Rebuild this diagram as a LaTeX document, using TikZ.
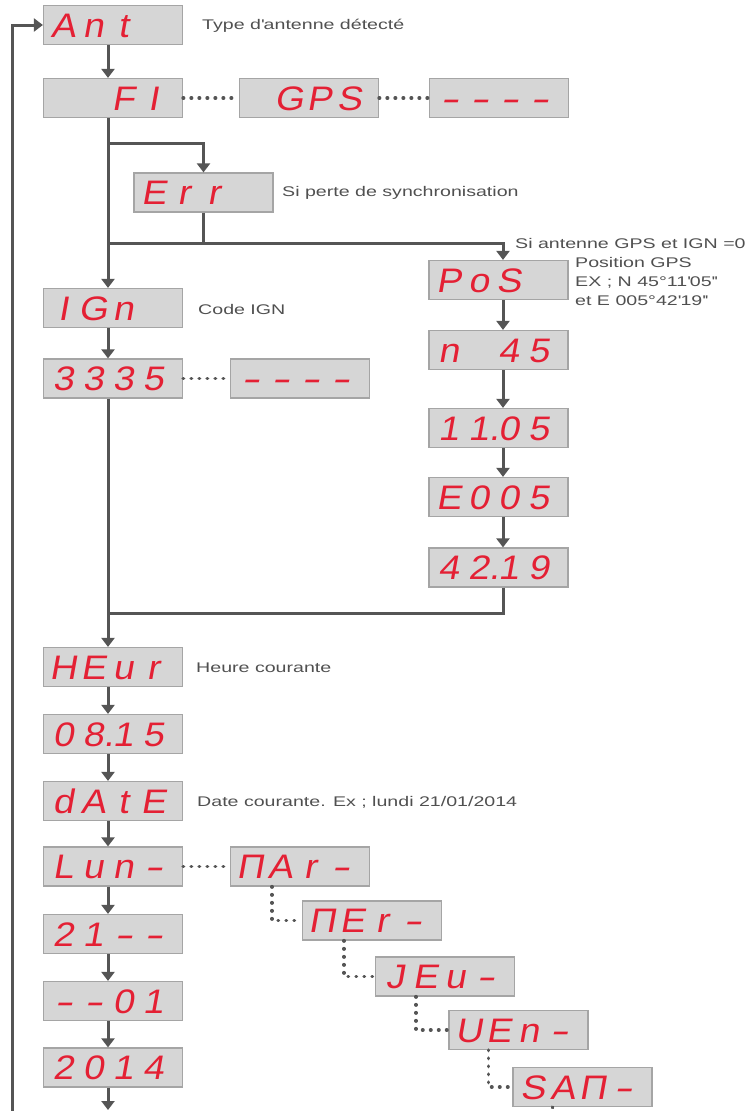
\documentclass[tikz,border=0pt]{standalone}
\usepackage{fontspec}
\usepackage{xcolor}
\usetikzlibrary{arrows.meta}
\usetikzlibrary{math}
\setmainfont{Liberation Sans}
\newfontfamily\labelfont[FakeStretch=1.4]{Liberation Sans}
\newfontfamily\segfont[FakeSlant=0.18, FakeStretch=1.1]{Liberation Sans}
\definecolor{linegray}{RGB}{85,85,85}
\definecolor{boxfill}{RGB}{214,214,214}
\definecolor{boxline}{RGB}{165,165,165}
\definecolor{segred}{RGB}{228,32,52}
\definecolor{labelgray}{RGB}{80,80,80}

% four digit cells of a display
\newcommand\digits[4]{{\segfont\fontsize{34}{34}\selectfont\color{segred}%
\makebox[30pt]{#1}\makebox[30pt]{#2}\makebox[30pt]{#3}\makebox[30pt]{#4}\kern10pt}}
\newcommand\segdash{\scalebox{1.5}[1]{-}}

\begin{document}
\begin{tikzpicture}[x=1pt, y=-1pt,
  disp/.style={draw=boxline, fill=boxfill, line width=1.2pt, minimum width=139pt,
    minimum height=39pt, inner sep=0pt, text height=24pt, text depth=0pt},
  lbl/.style={font=\labelfont\fontsize{14}{19}\selectfont, text=labelgray, inner sep=0pt},
  wire/.style={draw=linegray, line width=3pt},
  flow/.style={wire, -{Triangle[width=13pt,length=9pt]}},
  dots/.style={draw=linegray, line width=3.5pt, line cap=round, dash pattern=on 0.5pt off 7.5pt}]
\tikzmath{
\mx=108;
\sx=503;
}
\useasboundingbox (0,0) rectangle (751,1111);

\coordinate (main) at (\mx,0);
\coordinate (side) at (\sx,0);
\coordinate (split) at (\mx,143);
\coordinate (join) at (\mx,243);
\coordinate (back) at (\mx,613);
\coordinate (out) at (\mx,1110);
\coordinate (loop) at (12,1111);
\coordinate (stub) at (555,1111);

% left column
\node[disp] (ant) at (113,25) {\digits{A}{n}{t}{}};
\node[disp] (fi) at (113,98) {\digits{}{}{F}{I}};
\node[disp] (gps) at (309,98) {\digits{}{G}{P}{S}};
\node[disp] (nogps) at (499,98) {\digits{\segdash}{\segdash}{\segdash}{\segdash}};
\node[disp] (err) at (203.5,192.5) {\digits{E}{r}{r}{}};
\node[disp] (ign) at (113,308) {\digits{I}{G}{n}{}};
\node[disp] (code) at (113,378.5) {\digits{3}{3}{3}{5}};
\node[disp] (nocode) at (300,378.5) {\digits{\segdash}{\segdash}{\segdash}{\segdash}};

% GPS position
\node[disp] (pos) at (498.5,280) {\digits{P}{o}{S}{}};
\node[disp] (lat) at (498.5,350) {\digits{n}{}{4}{5}};
\node[disp] (latmin) at (498.5,428) {\digits{1}{1\rlap{.}}{0}{5}};
\node[disp] (lon) at (498.5,497) {\digits{E}{0}{0}{5}};
\node[disp] (lonmin) at (498.5,567.5) {\digits{4}{2\rlap{.}}{1}{9}};

% time and date
\node[disp] (heur) at (113,667) {\digits{H}{E}{u}{r}};
\node[disp] (hhmm) at (113,734) {\digits{0}{8\rlap{.}}{1}{5}};
\node[disp] (date) at (113,801) {\digits{d}{A}{t}{E}};
\node[disp] (lun) at (113,866.5) {\digits{L}{u}{n}{\segdash}};
\node[disp] (dd) at (113,934) {\digits{2}{1}{\segdash}{\segdash}};
\node[disp] (mm) at (113,1001) {\digits{\segdash}{\segdash}{0}{1}};
\node[disp] (yyyy) at (113,1067.5) {\digits{2}{0}{1}{4}};
\node[disp] (mar) at (300,866.5) {\digits{Π}{A}{r}{\segdash}};
\node[disp] (mer) at (372,920.5) {\digits{Π}{E}{r}{\segdash}};
\node[disp] (jeu) at (445,976.5) {\digits{J}{E}{u}{\segdash}};
\node[disp] (ven) at (518.5,1030) {\digits{U}{E}{n}{\segdash}};
\node[disp] (sam) at (582.5,1087) {\digits{S}{A}{Π}{\segdash}};

% labels
\node[lbl, anchor=west] (tant) at (202,26) {Type d\textquotesingle{}antenne détecté};
\node[lbl, anchor=west] (terr) at (282,193) {Si perte de synchronisation};
\node[lbl, anchor=west] (tgps) at (515,243) {Si antenne GPS et IGN =0};
\node[lbl, anchor=north west, align=left] (tpos) at (575,257)
  {Position GPS\\EX ; N 45°11\textquotesingle05\textquotesingle\textquotesingle\\et E 005°42\textquotesingle19\textquotesingle\textquotesingle};
\node[lbl, anchor=west] (tign) at (198,309) {Code IGN};
\node[lbl, anchor=west] (theur) at (196,668) {Heure courante};
\node[lbl, anchor=west] (tdate) at (197,802) {Date courante. Ex ; lundi 21/01/2014};

% main flow
\draw[flow] (loop) |- (ant.west);
\draw[flow] (main |- ant.south) -- (main |- fi.north);
\draw[flow] (main |- fi.south) -- (main |- ign.north);
\draw[flow] (split) -| (err.north);
\draw[wire] (err.south) -- (err.south |- join);
\draw[flow] (join) -| (side |- pos.north);
\draw[flow] (side |- pos.south) -- (side |- lat.north);
\draw[flow] (side |- lat.south) -- (side |- latmin.north);
\draw[flow] (side |- latmin.south) -- (side |- lon.north);
\draw[flow] (side |- lon.south) -- (side |- lonmin.north);
\draw[wire] (side |- lonmin.south) |- (back);
\draw[flow] (main |- ign.south) -- (main |- code.north);
\draw[flow] (main |- code.south) -- (main |- heur.north);
\draw[flow] (main |- heur.south) -- (main |- hhmm.north);
\draw[flow] (main |- hhmm.south) -- (main |- date.north);
\draw[flow] (main |- date.south) -- (main |- lun.north);
\draw[flow] (main |- lun.south) -- (main |- dd.north);
\draw[flow] (main |- dd.south) -- (main |- mm.north);
\draw[flow] (main |- mm.south) -- (main |- yyyy.north);
\draw[flow] (main |- yyyy.south) -- (out);

% alternatives
\draw[dots] (fi.east) -- (gps.west);
\draw[dots] (gps.east) -- (nogps.west);
\draw[dots] (code.east) -- (nocode.west);
\draw[dots] (lun.east) -- (mar.west);
\draw[dots] ([xshift=42pt]mar.south west) |- (mer.west);
\draw[dots] ([xshift=42pt]mer.south west) |- (jeu.west);
\draw[dots] ([xshift=41pt]jeu.south west) |- (ven.west);
\draw[dots] ([xshift=40pt]ven.south west) |- (sam.west);
\draw[dots] ([xshift=40pt]sam.south west) -- (stub);

\end{tikzpicture}
\end{document}
